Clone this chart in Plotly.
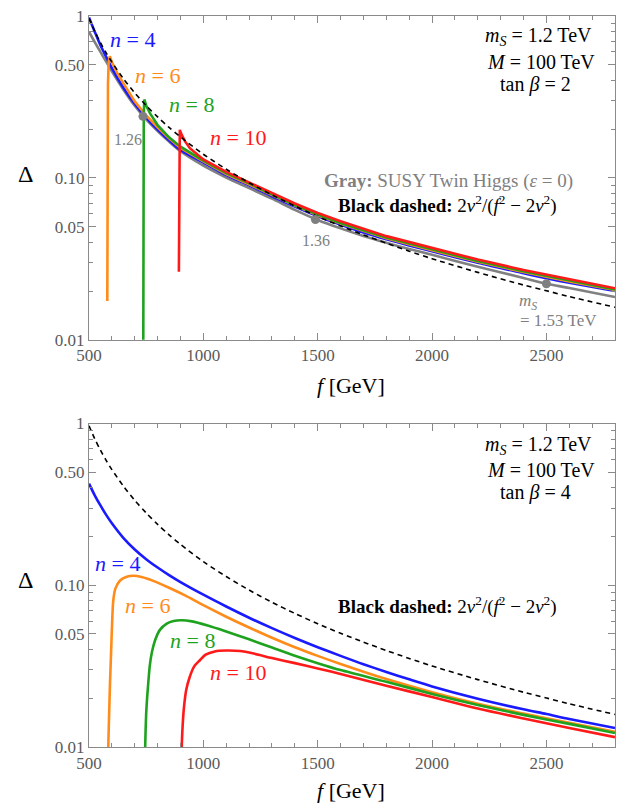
import plotly.graph_objects as go

# ---------------- data ----------------
f_grid = [500, 525, 550, 575, 600, 650, 700, 750, 800, 850, 900, 1000, 1100, 1200,
          1300, 1400, 1500, 1600, 1700, 1800, 1900, 2000, 2200, 2400, 2500, 2600, 2800]

dashed_vals = [0.969, 0.806, 0.685, 0.592, 0.519, 0.411, 0.335, 0.280, 0.238, 0.205, 0.179,
               0.140, 0.1132, 0.0934, 0.0785, 0.0670, 0.0578, 0.0505, 0.0445, 0.0395,
               0.0353, 0.0317, 0.0261, 0.0218, 0.0201, 0.0185, 0.0159]

# top panel (tan beta = 2)
top_blue = [0.98, 0.80, 0.66, 0.56, 0.476, 0.362, 0.287, 0.236, 0.199, 0.171, 0.149, 0.1245,
            0.104, 0.090, 0.077, 0.0665, 0.058, 0.0515, 0.046, 0.0418, 0.0383, 0.0352,
            0.0299, 0.0258, 0.0240, 0.0225, 0.0200]
top_gray = [0.80, 0.69, 0.60, 0.522, 0.455, 0.352, 0.279, 0.2297, 0.1947, 0.1677, 0.146, 0.119,
            0.1005, 0.0865, 0.0745, 0.0635, 0.0550, 0.0488, 0.0438, 0.0398, 0.0364, 0.0335,
            0.0283, 0.0241, 0.0222, 0.0209, 0.0184]

top_orange_f = [580, 581, 583, 586, 591, 600, 625, 650, 700, 750, 800, 850, 900, 1000, 1100,
                1200, 1300, 1400, 1500, 1600, 1800, 2000, 2200, 2400, 2600, 2800]
top_orange = [0.0174, 0.12, 0.38, 0.52, 0.565, 0.52, 0.44, 0.385, 0.297, 0.243, 0.205, 0.176,
              0.153, 0.1265, 0.1055, 0.0912, 0.078, 0.0674, 0.0588, 0.0522, 0.0424, 0.0357,
              0.0304, 0.0262, 0.0229, 0.0203]

top_green_f = [737, 738, 739.5, 742, 750, 767, 800, 850, 900, 1000, 1100, 1200, 1300, 1400,
               1500, 1600, 1800, 2000, 2200, 2400, 2600, 2800]
top_green = [0.005, 0.1, 0.25, 0.305, 0.28, 0.25, 0.212, 0.178, 0.156, 0.128, 0.107, 0.0925,
             0.079, 0.068, 0.0593, 0.0527, 0.0428, 0.0361, 0.0307, 0.0265, 0.0232, 0.0205]

top_red_f = [893, 894, 895.5, 897, 905, 920, 942, 1000, 1100, 1200, 1300, 1400, 1500, 1600,
             1800, 2000, 2200, 2400, 2600, 2800]
top_red = [0.0263, 0.08, 0.16, 0.198, 0.185, 0.168, 0.152, 0.13, 0.109, 0.094, 0.0805, 0.0695,
           0.0607, 0.054, 0.0437, 0.0368, 0.0313, 0.027, 0.0237, 0.0208]

dot_f = [736, 1490, 2500]
dot_vals = [0.240, 0.0553, 0.0222]

# bottom panel (tan beta = 4)
bot_blue = [0.425, 0.360, 0.3115, 0.2725, 0.2418, 0.1966, 0.1665, 0.145, 0.1287, 0.1155,
            0.1046, 0.0874, 0.0739, 0.0630, 0.0543, 0.0472, 0.0414, 0.0366, 0.0325, 0.0291,
            0.0262, 0.0237, 0.0199, 0.0171, 0.0160, 0.0149, 0.0131]

bot_orange_f = [583, 585, 588, 592, 597, 601, 606, 615, 636, 665, 694, 730, 781, 850, 920, 985,
                1100, 1200, 1300, 1400, 1500, 1600, 1800, 2000, 2200, 2400, 2600, 2800]
bot_orange = [0.008, 0.011, 0.016, 0.025, 0.040, 0.058, 0.080, 0.095, 0.107, 0.113, 0.1145,
              0.1125, 0.1065, 0.0965, 0.0865, 0.0772, 0.0639, 0.0548, 0.0474, 0.0414, 0.0366,
              0.0326, 0.0263, 0.0218, 0.0185, 0.0161, 0.0141, 0.0124]

bot_green_f = [744, 747, 750, 754, 759, 766, 775, 789, 810, 840, 870, 905, 950, 1015, 1100,
               1200, 1300, 1400, 1500, 1600, 1800, 2000, 2200, 2400, 2600, 2800]
bot_green = [0.008, 0.012, 0.016, 0.020, 0.0247, 0.032, 0.0385, 0.0457, 0.053, 0.058, 0.0602,
             0.0608, 0.0598, 0.0566, 0.0518, 0.0463, 0.0412, 0.0367, 0.0330, 0.0299, 0.0253,
             0.0213, 0.0182, 0.0158, 0.0139, 0.0122]

bot_red_f = [904, 906, 910, 916, 925, 940, 960, 985, 1010, 1050, 1100, 1160, 1220, 1300, 1400,
             1500, 1600, 1800, 2000, 2200, 2400, 2600, 2800]
bot_red = [0.008, 0.0105, 0.014, 0.018, 0.0225, 0.027, 0.0315, 0.0344, 0.0372, 0.039, 0.0395,
           0.0392, 0.0378, 0.0355, 0.0330, 0.0306, 0.0283, 0.0239, 0.0204, 0.0173, 0.0150,
           0.0131, 0.0115]

x_ticks = [500, 1000, 1500, 2000, 2500]
x_minor = [600, 700, 800, 900, 1100, 1200, 1300, 1400, 1600, 1700, 1800, 1900,
           2100, 2200, 2300, 2400, 2600, 2700, 2800]
y_ticks = [0.01, 0.05, 0.1, 0.5, 1]
y_ticktext = ["0.01", "0.05", "0.10", "0.50", "1"]
y_minor = [0.02, 0.03, 0.04, 0.06, 0.07, 0.08, 0.09, 0.2, 0.3, 0.4, 0.6, 0.7, 0.8, 0.9]

# ---------------- style ----------------
BLUE = "#1a1aff"
ORANGE = "#ff8c1a"
GREEN = "#1fa31f"
RED = "#ff1a1a"
GRAY = "#808080"
FONT = "Liberation Serif"
LW = 2.6

fig = go.Figure()

def add(x, y, color, xa, ya, width=LW, dash=None, shape="linear"):
    fig.add_trace(go.Scatter(x=x, y=y, mode="lines", xaxis=xa, yaxis=ya,
                             line=dict(color=color, width=width, dash=dash, shape=shape,
                                       smoothing=0.8),
                             showlegend=False, hoverinfo="skip"))

# top panel
add(f_grid, top_gray, GRAY, "x", "y", shape="spline")
add(f_grid, top_blue, BLUE, "x", "y", shape="spline")
add(top_orange_f, top_orange, ORANGE, "x", "y")
add(top_green_f, top_green, GREEN, "x", "y")
add(top_red_f, top_red, RED, "x", "y")
add(f_grid, dashed_vals, "black", "x", "y", width=1.6, dash="5px,4px", shape="spline")
fig.add_trace(go.Scatter(x=dot_f, y=dot_vals, mode="markers", xaxis="x", yaxis="y",
                         marker=dict(color=GRAY, size=9), showlegend=False, hoverinfo="skip"))

# bottom panel
add(f_grid, bot_blue, BLUE, "x2", "y2", shape="spline")
add(bot_orange_f, bot_orange, ORANGE, "x2", "y2", shape="spline")
add(bot_green_f, bot_green, GREEN, "x2", "y2", shape="spline")
add(bot_red_f, bot_red, RED, "x2", "y2", shape="spline")
add(f_grid, dashed_vals, "black", "x2", "y2", width=1.6, dash="5px,4px", shape="spline")

axis_common = dict(showgrid=False, zeroline=False, showline=True, linecolor="#8a8a8a",
                   linewidth=1.3, mirror="allticks", ticks="inside", ticklen=7,
                   tickcolor="#8a8a8a", tickwidth=1, automargin=False,
                   ticklabeloverflow="allow",
                   tickfont=dict(family=FONT, size=17, color="#5a5a5a"))

xaxis = dict(axis_common, range=[500, 2800], tickvals=x_ticks,
             minor=dict(tickvals=x_minor, ticklen=4, tickcolor="#8a8a8a", ticks="inside"))
yaxis = dict(axis_common, type="log", range=[-2, 0], tickvals=y_ticks, ticktext=y_ticktext,
             minor=dict(tickvals=y_minor, ticklen=4, tickcolor="#8a8a8a", ticks="inside"))

fig.update_layout(
    width=629, height=810,
    margin=dict(l=81, r=22, t=8, b=71),
    paper_bgcolor="white", plot_bgcolor="white",
    font=dict(family=FONT, size=18, color="black"),
    xaxis=dict(xaxis, domain=[0, 1], anchor="y"),
    yaxis=dict(yaxis, domain=[0.557, 1.0], anchor="x"),
    xaxis2=dict(xaxis, domain=[0, 1], anchor="y2"),
    yaxis2=dict(yaxis, domain=[0.0, 0.4425], anchor="x2"),
)

ann = []

def data_label(text, f, lv, color, xr, yr, size=22):
    ann.append(dict(text=text, x=f, y=lv, xref=xr, yref=yr, showarrow=False,
                    xanchor="left", yanchor="middle",
                    font=dict(family=FONT, size=size, color=color)))

# n labels top
data_label("<i>n</i> = 4", 583, -0.144, BLUE, "x", "y")
data_label("<i>n</i> = 6", 692, -0.366, ORANGE, "x", "y")
data_label("<i>n</i> = 8", 841, -0.549, GREEN, "x", "y")
data_label("<i>n</i> = 10", 1020, -0.749, RED, "x", "y")
# n labels bottom
data_label("<i>n</i> = 4", 517, -0.866, BLUE, "x2", "y2")
data_label("<i>n</i> = 6", 649, -1.124, ORANGE, "x2", "y2")
data_label("<i>n</i> = 8", 845, -1.342, GREEN, "x2", "y2")
data_label("<i>n</i> = 10", 1020, -1.540, RED, "x2", "y2")
# dot labels
data_label("1.26", 600, -0.761, GRAY, "x", "y", size=16)
data_label("1.36", 1423, -1.389, GRAY, "x", "y", size=16)
data_label("<i>m</i><sub><i>S</i></sub>", 2371, -1.769, GRAY, "x", "y", size=17)
data_label("= 1.53 TeV", 2376, -1.883, GRAY, "x", "y", size=17)

def paper_label(text, px, py, color="black", size=20, xanchor="center"):
    ann.append(dict(text=text, x=(px - 89) / 526, y=(747 - py) / 731, xref="paper",
                    yref="paper", showarrow=False, xanchor=xanchor, yanchor="middle",
                    font=dict(family=FONT, size=size, color=color)))

for dy, tb in [(0, "2"), (408, "4")]:
    paper_label("<i>m</i><sub><i>S</i></sub> = 1.2 TeV", 538, 37 + dy)
    paper_label("<i>M</i> = 100 TeV", 541, 62 + dy)
    paper_label("tan <i>β</i> = " + tb, 535, 84 + dy)
    paper_label("<b>Black dashed:</b> 2<i>v</i><sup>2</sup>/(<i>f</i><sup>2</sup> − 2<i>v</i><sup>2</sup>)",
                447.5, 204 + dy * 0.985, size=19)
    paper_label("Δ", 25, 174 + dy * 0.995, size=24)
    paper_label("<i>f</i> [GeV]", 351, 385 + dy * 0.995, size=22)

paper_label("<b>Gray:</b> SUSY Twin Higgs (<i>ε</i> = 0)", 448, 181, color=GRAY, size=19)

fig.update_layout(annotations=ann)
fig.write_html("out.html")
